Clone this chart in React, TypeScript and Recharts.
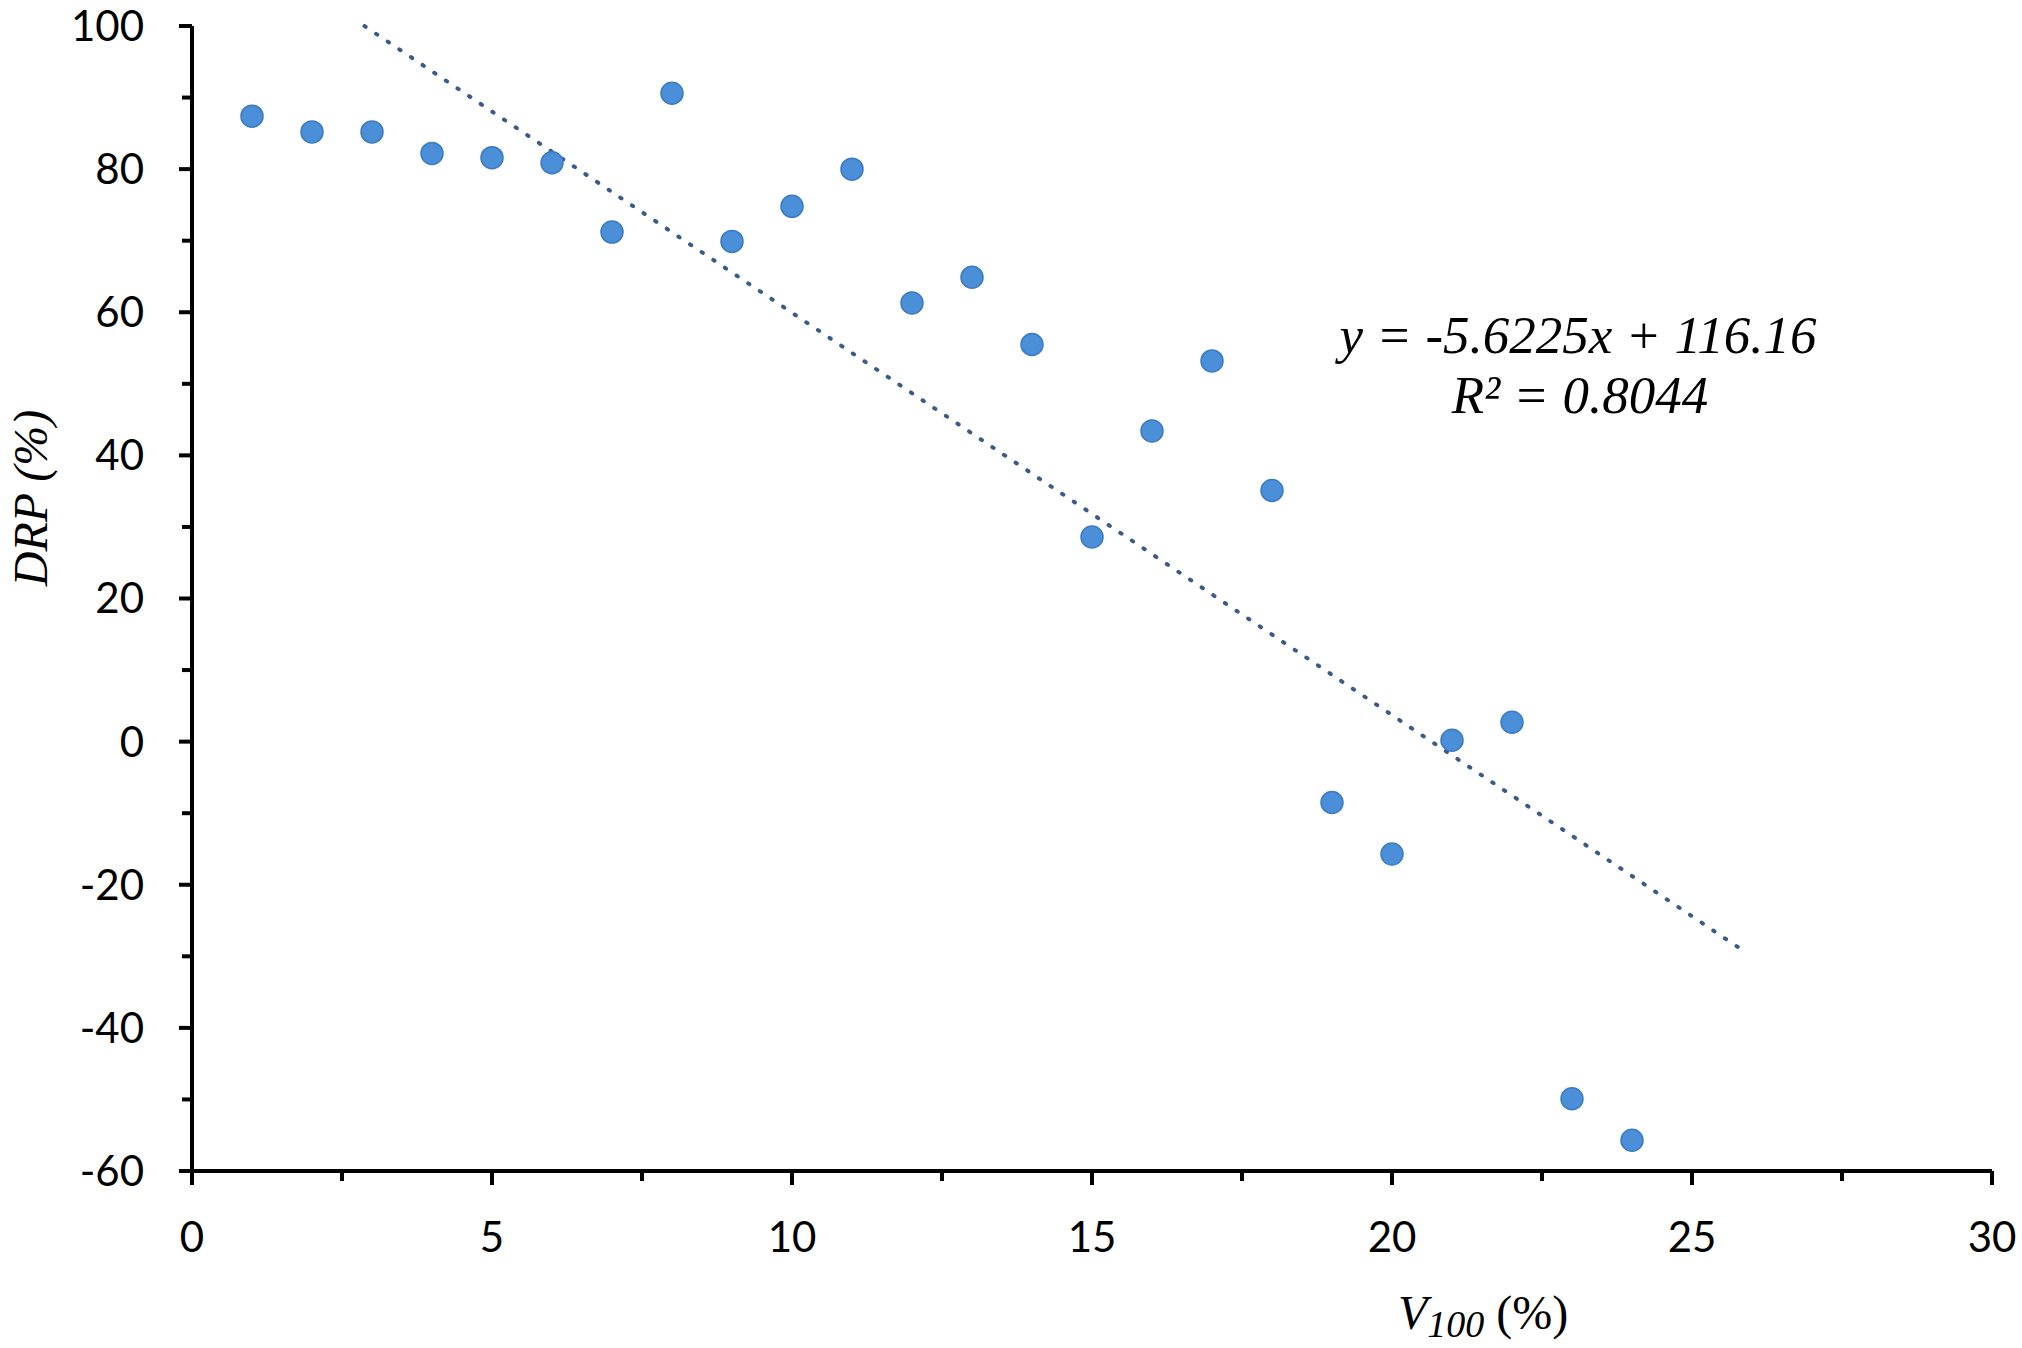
import { ScatterChart, Scatter, XAxis, YAxis, ReferenceLine, Customized } from "recharts"

// V100 (%) vs DRP (%), 24 samples
const V100 = [1, 2, 3, 4, 5, 6, 7, 8, 9, 10, 11, 12, 13, 14, 15, 16, 17, 18, 19, 20, 21, 22, 23, 24]
const DRP = [87.4, 85.2, 85.2, 82.2, 81.6, 80.9, 71.2, 90.6, 69.9, 74.8, 80.0, 61.3, 64.9, 55.5, 28.6, 43.4, 53.2, 35.1, -8.5, -15.7, 0.2, 2.7, -49.9, -55.7]

const X_TICKS = [0, 2.5, 5, 7.5, 10, 12.5, 15, 17.5, 20, 22.5, 25, 27.5, 30]
const Y_TICKS = [-60, -50, -40, -30, -20, -10, 0, 10, 20, 30, 40, 50, 60, 70, 80, 90, 100]

// linear trendline as printed on the chart
const SLOPE = -5.6225
const INTERCEPT = 116.16
const R2 = 0.8044
const TREND_X = [2.874, 25.85]

const points = V100.map((x, i) => ({ x, y: DRP[i] }))
const trend = TREND_X.map((x) => ({ x, y: SLOPE * x + INTERCEPT }))

const TICK_FONT = "Lato, 'Open Sans', sans-serif"
const SERIF = "'Liberation Serif', 'DejaVu Serif', serif"
const DOT = "#4a8fd8"
const DOT_EDGE = "#3b7bc2"
const TREND = "#3a5a8a"

const Y_MARGIN = 48
const X_MARGIN = 51

function YTick(props: any) {
  const { x, y, payload } = props
  const v = payload.value as number
  const major = v % 20 === 0
  const ax = x + Y_MARGIN
  return (
    <g>
      <line x1={ax - (major ? 13 : 10)} x2={ax} y1={y} y2={y} stroke="#000" strokeWidth={4} />
      {major && (
        <text x={x} y={y} dy="0.355em" textAnchor="end" fontFamily={TICK_FONT} fontSize={42} fill="#000">
          {String(v)}
        </text>
      )}
    </g>
  )
}

function XTick(props: any) {
  const { x, y, payload } = props
  const v = payload.value as number
  const major = v % 5 === 0
  const ay = y - X_MARGIN
  return (
    <g>
      <line x1={x} x2={x} y1={ay} y2={ay + (major ? 14 : 10)} stroke="#000" strokeWidth={4} />
      {major && (
        <text x={x} y={y} dy="0.71em" textAnchor="middle" fontFamily={TICK_FONT} fontSize={42} fill="#000">
          {String(v)}
        </text>
      )}
    </g>
  )
}

function Texts() {
  return (
    <g fontFamily={SERIF} fill="#000">
      <text x={1578} y={353} textAnchor="middle" fontSize={53} fontStyle="italic">
        {`y = ${SLOPE}x + ${INTERCEPT}`}
      </text>
      <text x={1580} y={413} textAnchor="middle" fontSize={53} fontStyle="italic">
        {`R² = ${R2}`}
      </text>
      <text x={47} y={498} textAnchor="middle" fontSize={48} fontStyle="italic" transform="rotate(-90 47 498)">
        DRP (%)
      </text>
      <text x={1398} y={1329} fontSize={48}>
        <tspan fontStyle="italic">V</tspan>
        <tspan fontStyle="italic" fontSize={38} dy={8}>100</tspan>
        <tspan dy={-8}> (%)</tspan>
      </text>
    </g>
  )
}

export default function App() {
  return (
    <div style={{ position: "absolute", left: 0, top: 0, width: 2022, height: 1348, background: "#fff" }}>
      <ScatterChart width={2022} height={1348} margin={{ top: 26, right: 30, bottom: 0, left: 0 }}>
        <XAxis
          type="number" dataKey="x" domain={[0, 30]} ticks={X_TICKS} interval={0}
          height={177} tickSize={0} tickMargin={X_MARGIN} tickLine={false}
          axisLine={{ stroke: "#000", strokeWidth: 4 }} tick={<XTick />}
        />
        <YAxis
          type="number" dataKey="y" domain={[-60, 100]} ticks={Y_TICKS} interval={0}
          width={192} tickSize={0} tickMargin={Y_MARGIN} tickLine={false}
          axisLine={{ stroke: "#000", strokeWidth: 4 }} tick={<YTick />}
        />
        <Scatter
          data={points} isAnimationActive={false}
          shape={(p: any) => <circle cx={p.cx} cy={p.cy} r={11} fill={DOT} stroke={DOT_EDGE} strokeWidth={1.5} />}
        />
        <ReferenceLine
          segment={[trend[0], trend[1]]} stroke={TREND} strokeWidth={4}
          strokeDasharray="1.5 12.5" strokeLinecap="round" ifOverflow="visible"
        />
        <Customized component={Texts} />
      </ScatterChart>
    </div>
  )
}
